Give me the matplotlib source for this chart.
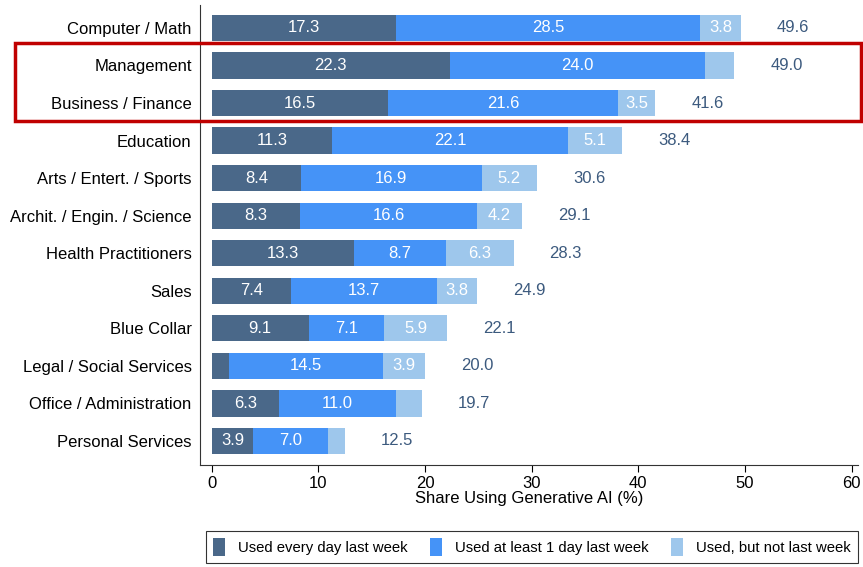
import matplotlib
matplotlib.use("Agg")
import matplotlib.pyplot as plt
from matplotlib.patches import Rectangle, Patch
import numpy as np

categories = ["Computer / Math", "Management", "Business / Finance", "Education",
              "Arts / Entert. / Sports", "Archit. / Engin. / Science",
              "Health Practitioners", "Sales", "Blue Collar",
              "Legal / Social Services", "Office / Administration", "Personal Services"]
every_day = [17.3, 22.3, 16.5, 11.3, 8.4, 8.3, 13.3, 7.4, 9.1, 1.6, 6.3, 3.9]
at_least_1day = [28.5, 24.0, 21.6, 22.1, 16.9, 16.6, 8.7, 13.7, 7.1, 14.5, 11.0, 7.0]
not_last_week = [3.8, 2.7, 3.5, 5.1, 5.2, 4.2, 6.3, 3.8, 5.9, 3.9, 2.4, 1.6]
totals = [49.6, 49.0, 41.6, 38.4, 30.6, 29.1, 28.3, 24.9, 22.1, 20.0, 19.7, 12.5]
series_names = ["Used every day last week", "Used at least 1 day last week",
                "Used, but not last week"]
xticks = [0, 10, 20, 30, 40, 50, 60]

plt.rcParams['font.family'] = ['Liberation Sans', 'DejaVu Sans']
colors = ["#4a6889", "#4593f7", "#9ec7ec"]
total_color = "#3c5a7e"

fig = plt.figure(figsize=(8.63, 5.67), dpi=100)
ax = fig.add_axes([200/863, 102/567, 658/863, 460/567])

y = np.arange(len(categories))
left = np.zeros(len(categories))
for vals, c in zip([every_day, at_least_1day, not_last_week], colors):
    vals = np.array(vals)
    ax.barh(y, vals, left=left, height=0.7, color=c, edgecolor='none')
    for yi, l, v in zip(y, left, vals):
        if v >= 3.0:
            ax.text(l + v/2, yi, f"{v:.1f}", ha='center', va='center',
                    color='white', fontsize=12)
    left = left + vals

for yi, l, t in zip(y, left, totals):
    ax.text(l + 4.9, yi, f"{t:.1f}", ha='center', va='center',
            color=total_color, fontsize=12)

ax.set_xlim(-1.1, 60.6)
ax.set_ylim(11.64, -0.61)
ax.set_yticks(y)
ax.set_yticklabels(categories, fontsize=12)
ax.set_xticks(xticks)
ax.set_xticklabels([str(t) for t in xticks], fontsize=12)
ax.tick_params(axis='y', length=0, pad=6)
ax.tick_params(axis='x', length=5, direction='out', pad=3)
ax.set_xlabel("Share Using Generative AI (%)", fontsize=12, labelpad=0)
ax.spines['top'].set_visible(False)
ax.spines['right'].set_visible(False)
ax.spines['left'].set_color('#333333')
ax.spines['bottom'].set_color('#333333')

handles = [Patch(facecolor=c, edgecolor='none') for c in colors]
leg = fig.legend(handles, series_names, loc='center', bbox_to_anchor=(532/863, 1 - 547/567),
                 ncol=3, fontsize=10.7, frameon=True, fancybox=False, edgecolor='black',
                 handlelength=0.8, handleheight=1.5, columnspacing=1.5, handletextpad=0.9,
                 borderpad=0.45, borderaxespad=0)
leg.get_frame().set_linewidth(0.8)

rect = Rectangle((15/863, 1 - 121/567), (861-15)/863, (121-43)/567,
                 transform=fig.transFigure, fill=False, edgecolor='#c00000',
                 linewidth=2.5, clip_on=False)
fig.patches.append(rect)

fig.savefig("out.png", dpi=100)
